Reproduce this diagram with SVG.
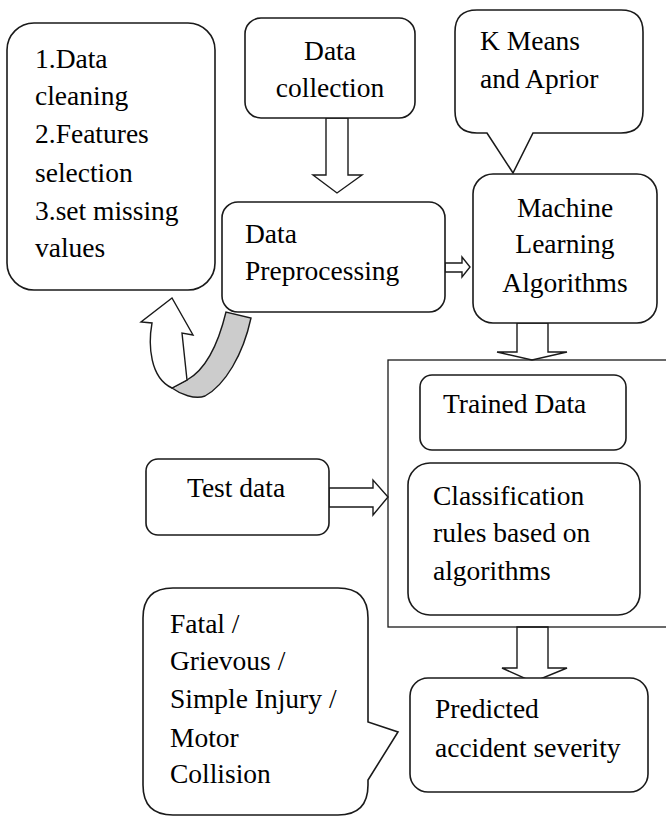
<svg xmlns="http://www.w3.org/2000/svg" width="666" height="817" viewBox="0 0 666 817">
<defs>
<symbol id="unused"/>
</defs>
<rect width="666" height="817" fill="#fff"/>
<g id="connectors" fill="#fff" stroke="#1a1a1a" stroke-width="1.4">
<polygon points="326,118 348,118 348,175 362,175 337,193 313,175 326,175"/>
<polygon points="445,263 462,263 462,257 470,267 462,277 462,272 445,272"/>
<polygon points="517,323 548,323 548,352 567,352 532,360 497,352 517,352"/>
<polygon points="329,488 373,488 373,480 388,497 373,515 373,507 329,507"/>
<polygon points="517,627 548,627 548,668 567,668 533,682 502,668 517,668"/>
<path d="M172,388 L187,380 C205,370 218,345 226,312 L251,318 C243,355 225,385 205,396 C195,400 180,394 172,388 Z" fill="#cccccc"/>
<path d="M187,380 L182,333 L193,335 L172,298 L141,322 L152,323 C148,345 150,378 172,388 Z"/>
</g>
<g id="steps">
<rect x="7" y="23" width="208" height="267" rx="27" fill="#fff" stroke="#1a1a1a" stroke-width="1.6"/>
<text x="35" y="68" font-family="Liberation Serif" font-size="27.5">1.Data</text>
<text x="35" y="105" font-family="Liberation Serif" font-size="27.5">cleaning</text>
<text x="35" y="143" font-family="Liberation Serif" font-size="27.5">2.Features</text>
<text x="35" y="182" font-family="Liberation Serif" font-size="27.5">selection</text>
<text x="35" y="220" font-family="Liberation Serif" font-size="27.5">3.set missing</text>
<text x="35" y="257" font-family="Liberation Serif" font-size="27.5">values</text>
</g>
<g id="data-collection">
<rect x="245" y="18" width="170" height="100" rx="16" fill="#fff" stroke="#1a1a1a" stroke-width="1.6"/>
<text x="330" y="60" text-anchor="middle" font-family="Liberation Serif" font-size="27.5">Data</text>
<text x="330" y="97" text-anchor="middle" font-family="Liberation Serif" font-size="27.5">collection</text>
</g>
<g id="data-preprocessing">
<rect x="222" y="202" width="223" height="110" rx="16" fill="#fff" stroke="#1a1a1a" stroke-width="1.6"/>
<text x="245" y="243" font-family="Liberation Serif" font-size="27.5">Data</text>
<text x="245" y="280" font-family="Liberation Serif" font-size="27.5">Preprocessing</text>
</g>
<g id="kmeans">
<path d="M477,10 H621 Q643,10 643,32 V111 Q643,133 621,133 H533 L513,173 L487,133 H477 Q455,133 455,111 V32 Q455,10 477,10 Z" fill="#fff" stroke="#1a1a1a" stroke-width="1.6"/>
<text x="480" y="50" font-family="Liberation Serif" font-size="27.5">K Means</text>
<text x="480" y="88" font-family="Liberation Serif" font-size="27.5">and Aprior</text>
</g>
<g id="ml-algorithms">
<rect x="473" y="174" width="184" height="149" rx="20" fill="#fff" stroke="#1a1a1a" stroke-width="1.6"/>
<text x="565" y="217" text-anchor="middle" font-family="Liberation Serif" font-size="27.5">Machine</text>
<text x="565" y="253" text-anchor="middle" font-family="Liberation Serif" font-size="27.5">Learning</text>
<text x="565" y="292" text-anchor="middle" font-family="Liberation Serif" font-size="27.5">Algorithms</text>
</g>
<g id="model-group">
<rect x="388" y="360" width="290" height="267" fill="none" stroke="#1a1a1a" stroke-width="1.3"/>
</g>
<g id="trained-data">
<rect x="420" y="375" width="206" height="75" rx="12" fill="#fff" stroke="#1a1a1a" stroke-width="1.6"/>
<text x="443" y="413" font-family="Liberation Serif" font-size="27.5">Trained Data</text>
</g>
<g id="classification-rules">
<rect x="408" y="463" width="232" height="152" rx="22" fill="#fff" stroke="#1a1a1a" stroke-width="1.6"/>
<text x="433" y="505" font-family="Liberation Serif" font-size="27.5">Classification</text>
<text x="433" y="542" font-family="Liberation Serif" font-size="27.5">rules based on</text>
<text x="433" y="580" font-family="Liberation Serif" font-size="27.5">algorithms</text>
</g>
<g id="test-data">
<rect x="146" y="459" width="183" height="76" rx="12" fill="#fff" stroke="#1a1a1a" stroke-width="1.6"/>
<text x="187" y="497" font-family="Liberation Serif" font-size="27.5">Test data</text>
</g>
<g id="severity-classes">
<path d="M173,588 H338 Q368,588 368,618 V722 L398,732 L368,780 V785 Q368,815 338,815 H173 Q143,815 143,785 V618 Q143,588 173,588 Z" fill="#fff" stroke="#1a1a1a" stroke-width="1.6"/>
<text x="170" y="633" font-family="Liberation Serif" font-size="27.5">Fatal /</text>
<text x="170" y="670" font-family="Liberation Serif" font-size="27.5">Grievous /</text>
<text x="170" y="708" font-family="Liberation Serif" font-size="27.5">Simple Injury /</text>
<text x="170" y="747" font-family="Liberation Serif" font-size="27.5">Motor</text>
<text x="170" y="783" font-family="Liberation Serif" font-size="27.5">Collision</text>
</g>
<g id="predicted">
<rect x="410" y="678" width="238" height="114" rx="18" fill="#fff" stroke="#1a1a1a" stroke-width="1.6"/>
<text x="435" y="718" font-family="Liberation Serif" font-size="27.5">Predicted</text>
<text x="435" y="757" font-family="Liberation Serif" font-size="27.5">accident severity</text>
</g>
</svg>
